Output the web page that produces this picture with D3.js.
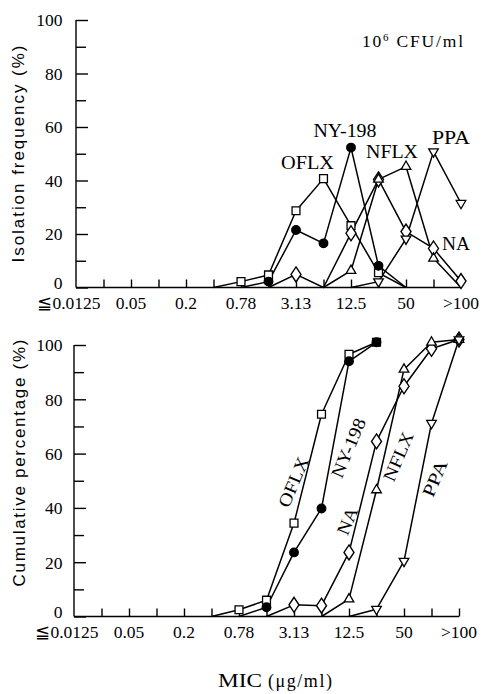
<!DOCTYPE html>
<html>
<head>
<meta charset="utf-8">
<script src="https://cdn.jsdelivr.net/npm/d3@7"></script>
<style>
  html, body { margin: 0; padding: 0; background: #fff; }
  svg { display: block; }
</style>
</head>
<body>
<svg id="chart" width="483" height="694"></svg>
<script>
// ---- Data ----
const categories = ["≦0.0125", "0.025", "0.05", "0.1", "0.2", "0.39", "0.78", "1.56",
                    "3.13", "6.25", "12.5", "25", "50", "100", ">100"];
const tickLabels = ["≦0.0125", "0.05", "0.2", "0.78", "3.13", "12.5", "50", ">100"];
const yTicks = [0, 20, 40, 60, 80, 100];
const yMinorTicks = [10, 30, 50, 70, 90];
const seriesNames = ["OFLX", "NY-198", "NA", "NFLX", "PPA"];
const seriesSymbols = ["square", "circle", "diamond", "triangle", "triangleDown"];

// Isolation frequency (%), 10^6 CFU/ml
const freqOFLX  = [null, null, null, null, null, 0, 2.2, 4.7, 28.7, 40.7, 23.1, 5.5, 0, null, null];
const freqNY198 = [null, null, null, null, null, null, 0, 2.2, 21.5, 16.5, 52.3, 8.1, 0, null, null];
const freqNA    = [null, null, null, null, null, null, null, 0, 4.9, 0, 20.3, 40.4, 20.9, 14.6, 2.4];
const freqNFLX  = [null, null, null, null, null, null, null, null, null, 0, 6.3, 40.4, 45.2, 10.9, 0];
const freqPPA   = [null, null, null, null, null, null, null, null, null, null, 0, 2.2, 18.2, 50.8, 31.5];

// Cumulative percentage (%)
const cumOFLX  = [null, null, null, null, null, 0, 2.5, 6, 34.4, 74.5, 96.6, 101, null, null, null];
const cumNY198 = [null, null, null, null, null, null, 0, 3.4, 23.6, 39.8, 94, 101, null, null, null];
const cumNA    = [null, null, null, null, null, null, null, 0, 4.3, 4, 23.6, 64.5, 84.8, 98.6, 102];
const cumNFLX  = [null, null, null, null, null, null, null, null, null, 0, 6.4, 46.6, 91, 101, 102];
const cumPPA   = [null, null, null, null, null, null, null, null, null, null, 0, 2.7, 20.4, 71.2, 102];

const freqSeries = [freqOFLX, freqNY198, freqNA, freqNFLX, freqPPA];
const cumSeries  = [cumOFLX, cumNY198, cumNA, cumNFLX, cumPPA];

// ---- Drawing ----
const svg = d3.select("#chart");
const serif = "'Liberation Serif', 'Times New Roman', serif";
const sans = "'Liberation Sans', Arial, sans-serif";

const symbolDefs = {
  square: d3.symbolSquare,
  circle: d3.symbolCircle,
  diamond: d3.symbolDiamond,
  triangle: d3.symbolTriangle,
  triangleDown: d3.symbolTriangle
};
const symbolSizes = { square: 62, circle: 58, diamond: 72, triangle: 40, triangleDown: 40 };

function panel(cfg) {
  const x = d3.scalePoint().domain(categories).range([cfg.x0, cfg.x1]);
  const y = d3.scaleLinear().domain([0, 100]).range([cfg.yBottom, cfg.yTop]);
  const g = svg.append("g");

  // Y axis (ticks pointing inward)
  const yAxis = d3.axisRight(y).tickValues(yTicks).tickSize(12).tickFormat("");
  const ya = g.append("g").attr("transform", `translate(${cfg.x0},0)`).call(yAxis);
  ya.select(".domain").attr("d", `M0,${cfg.yBottom}V${cfg.yTop}`);
  const yMinor = d3.axisRight(y).tickValues(yMinorTicks).tickSize(10).tickFormat("");
  const ym = g.append("g").attr("transform", `translate(${cfg.x0},0)`).call(yMinor);
  ym.select(".domain").remove();
  g.selectAll("path.domain, .tick line").attr("stroke", "#000").attr("stroke-width", 1.4);

  // Y tick labels (the 0 label sits slightly above the x axis)
  g.selectAll("text.ylab").data(yTicks).enter().append("text")
    .attr("class", "ylab")
    .attr("x", 62.5)
    .attr("y", d => y(d) - (d === 0 ? 5 : 0))
    .attr("dy", "0.36em")
    .attr("text-anchor", "end")
    .attr("font-family", serif)
    .attr("font-size", 17.5)
    .text(d => d);

  // X axis (ticks pointing upward)
  const xAxis = d3.axisTop(x).tickValues(categories.slice(1)).tickSize(8).tickFormat("");
  const xa = g.append("g").attr("transform", `translate(0,${cfg.yBottom})`).call(xAxis);
  xa.select(".domain").attr("d", `M${cfg.x0},0H${cfg.x1}`);
  xa.selectAll("path.domain, .tick line").attr("stroke", "#000").attr("stroke-width", 1.4);

  // X tick labels
  g.selectAll("text.xlab").data(tickLabels).enter().append("text")
    .attr("class", "xlab")
    .attr("x", d => x(d) + (d === categories[0] ? -7 : 0))
    .attr("y", cfg.yBottom + 21.5)
    .attr("text-anchor", "middle")
    .attr("font-family", serif)
    .attr("font-size", 17.5)
    .text(d => d);

  // Lines
  const line = d3.line()
    .defined(d => d.v !== null)
    .x(d => x(d.c))
    .y(d => y(d.v));

  cfg.series.forEach((vals, si) => {
    const pts = vals.map((v, i) => ({ c: categories[i], v: v }));
    g.append("path")
      .datum(pts)
      .attr("fill", "none")
      .attr("stroke", "#000")
      .attr("stroke-width", 1.5)
      .attr("stroke-linejoin", "round")
      .attr("d", line);
  });

  // Markers (only non-zero values)
  cfg.series.forEach((vals, si) => {
    const sym = seriesSymbols[si];
    const pts = vals.map((v, i) => ({ c: categories[i], v: v })).filter(d => d.v !== null && d.v > 0);
    const gen = d3.symbol().type(symbolDefs[sym]).size(symbolSizes[sym]);
    g.selectAll(null).data(pts).enter().append("path")
      .attr("d", gen)
      .attr("transform", d => {
        let t = `translate(${x(d.c)},${y(d.v)})`;
        if (sym === "diamond") t += " scale(1.1,0.95)";
        if (sym === "triangleDown") t += " rotate(180)";
        return t;
      })
      .attr("fill", sym === "circle" ? "#000" : "#fff")
      .attr("stroke", "#000")
      .attr("stroke-width", 1.3);
  });

  // Y axis title
  g.append("text")
    .attr("transform", `translate(${cfg.titleX},${cfg.titleY}) rotate(-90)`)
    .attr("text-anchor", "middle")
    .attr("dominant-baseline", "central")
    .attr("font-family", sans)
    .attr("font-size", 17)
    .attr("textLength", cfg.titleLen)
    .attr("lengthAdjust", "spacing")
    .text(cfg.title);

  return { x, y, g };
}

const topPanel = panel({
  x0: 76, x1: 461, yTop: 20, yBottom: 287.5,
  series: freqSeries,
  title: "Isolation frequency (%)", titleX: 18, titleY: 154, titleLen: 217
});

const bottomPanel = panel({
  x0: 74, x1: 459, yTop: 345, yBottom: 616.5,
  series: cumSeries,
  title: "Cumulative percentage (%)", titleX: 19, titleY: 463, titleLen: 247
});

// Top panel series labels
const topLabels = [
  { t: "NY-198", x: 345, y: 137, w: 63 },
  { t: "OFLX", x: 307.5, y: 168.5, w: 53 },
  { t: "NFLX", x: 392, y: 157.5, w: 52 },
  { t: "PPA", x: 451, y: 143.5, w: 38 },
  { t: "NA", x: 456, y: 249.5, w: 28 }
];
topPanel.g.selectAll(null).data(topLabels).enter().append("text")
  .attr("x", d => d.x).attr("y", d => d.y)
  .attr("text-anchor", "middle")
  .attr("font-family", serif)
  .attr("font-size", 18)
  .attr("textLength", d => d.w)
  .attr("lengthAdjust", "spacingAndGlyphs")
  .text(d => d.t);

// Concentration note
const note = topPanel.g.append("text")
  .attr("x", 362).attr("y", 47)
  .attr("font-family", serif)
  .attr("font-size", 17.5)
  .attr("textLength", 101)
  .attr("lengthAdjust", "spacing");
note.append("tspan").text("10");
note.append("tspan").attr("font-size", 11).attr("dy", -6).text("6");
note.append("tspan").attr("dy", 6).text(" CFU/ml");

// Bottom panel rotated series labels
const botLabels = [
  { t: "OFLX", x: 293.5, y: 482, w: 53 },
  { t: "NY-198", x: 348.5, y: 448, w: 63 },
  { t: "NA", x: 347.5, y: 521, w: 28 },
  { t: "NFLX", x: 398.5, y: 456.5, w: 52 },
  { t: "PPA", x: 435, y: 478.5, w: 38 }
];
bottomPanel.g.selectAll(null).data(botLabels).enter().append("text")
  .attr("transform", d => `translate(${d.x},${d.y}) rotate(-67)`)
  .attr("text-anchor", "middle")
  .attr("dominant-baseline", "central")
  .attr("font-family", serif)
  .attr("font-size", 18)
  .attr("textLength", d => d.w)
  .attr("lengthAdjust", "spacingAndGlyphs")
  .text(d => d.t);

// X axis title
svg.append("text")
  .attr("x", 218).attr("y", 687)
  .attr("font-family", serif)
  .attr("font-size", 18)
  .attr("textLength", 44)
  .attr("lengthAdjust", "spacingAndGlyphs")
  .text("MIC");
svg.append("text")
  .attr("x", 268).attr("y", 687)
  .attr("font-family", serif)
  .attr("font-size", 18)
  .attr("textLength", 64)
  .attr("lengthAdjust", "spacing")
  .text("(μg/ml)");
</script>
</body>
</html>
